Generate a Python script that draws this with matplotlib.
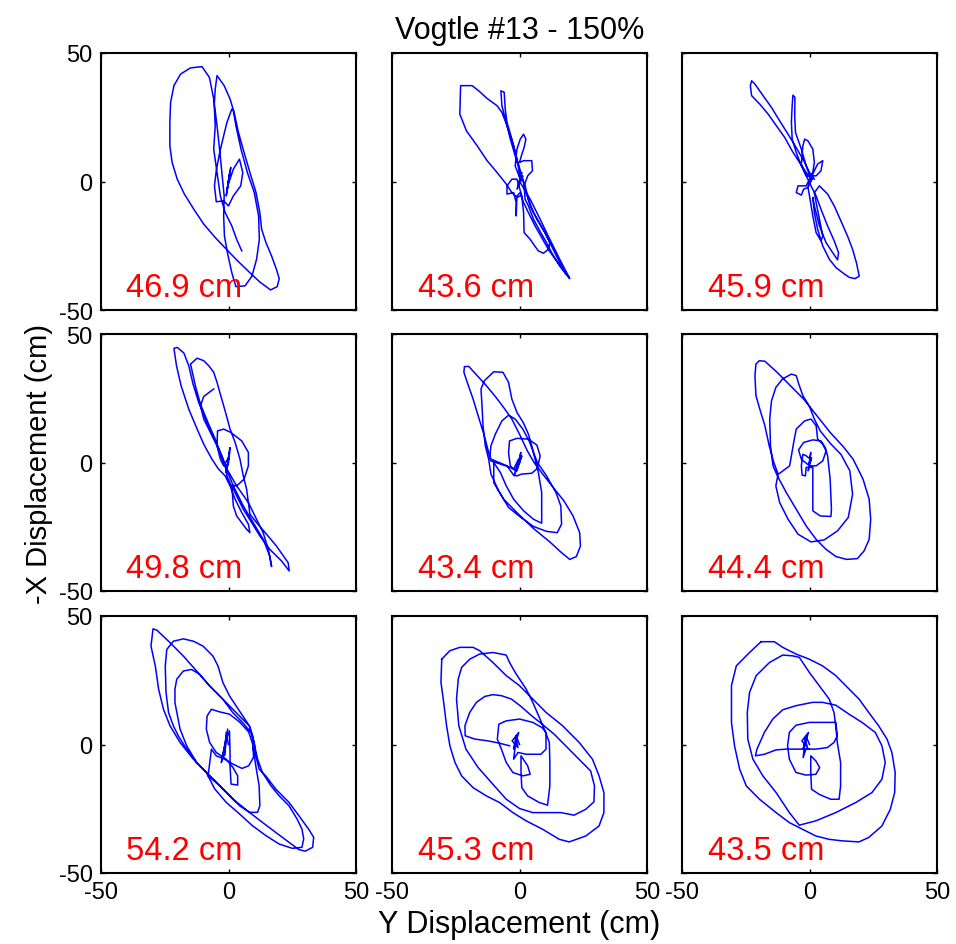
import numpy as np
import matplotlib.pyplot as plt

plt.rcParams['font.family'] = ['Liberation Sans', 'DejaVu Sans']
plt.rcParams['axes.unicode_minus'] = False

nan = np.nan

# orbits: (Y displacement, -X displacement) in cm, one list per panel
orbit_1 = [(0, 0), (0.6, 4.2), (-0.6, -3.6), (0.9, 5.5), (-0.9, -5.6), (0.3, 1.6), (-0.3, -1.7),
           (1.9, 4.8), (4.3, 8.7), (5.6, 3.5), (4.8, -1.7), (1.9, -5.6), (0, -9.5),
           (-1.9, -7.5), (-4.8, -7.9), (-5.5, -1.7), (-4.8, 4.2), (-3.6, 10.6), (-1.9, 17.8),
           (-0.6, 23.0), (1.3, 28.2), (1.9, 27.5), (2.9, 21.7), (4.9, 12.6), (7.4, 3.5),
           (10.1, -4.3), (11.8, -13.4), (12.1, -22.5), (11.0, -30.3), (9.2, -36.8), (6.5, -40.6),
           (2.9, -40.9), (1.3, -35.5), (-0.3, -28.3), (-1.6, -21.2), (-1.9, -13.4), (-1.7, -5.6),
           (-2.6, 3.5), (-3.5, 12.6), (-4.5, 21.7), (-5.8, 32.1), (-7.4, 40.1), (-7.7, 40.8),
           (-10.4, 44.7), (-14.9, 44.2), (-18.8, 41.8), (-21.4, 37.3), (-22.7, 30.8), (-23.0, 23.0),
           (-23.0, 13.9), (-22.1, 7.4), (-20.1, 0.9), (-17.3, -4.9), (-13.6, -10.8), (-9.7, -16.6),
           (-5.2, -21.8), (-0.6, -26.6), (3.2, -30.5), (8.4, -35.5), (12.3, -39.1), (16.5, -42.2),
           (19.1, -40.9), (19.9, -37.8), (18.8, -34.2), (16.9, -29.0), (14.7, -23.8), (13.0, -18.6),
           (12.3, -12.1), (10.8, -4.3), (8.4, 3.5), (6.1, 11.3), (3.9, 19.1), (2.2, 26.9),
           (0.6, 32.1), (-1.7, 37.3), (-4.5, 41.2), (-5.2, 36.0), (-5.6, 29.5), (-5.2, 21.7),
           (-5.8, 12.6), (-4.5, 3.5), (-3.2, -5.6), (-1.3, -12.1), (1.3, -17.3), (3.2, -22.5),
           (5.2, -27.0)]

orbit_2 = [(0, 0), (0.9, 3.5), (-1.0, -3.0), (1.3, 2.2), (-0.4, -1.7), (0.3, 0.9), (-1.7, 6.1),
           (-1.0, 12.6), (0.3, 16.5), (1.6, 18.4), (2.5, 16.5), (1.8, 13.2), (0.9, 10.6), (0, 7.4),
           (1.6, 8.1), (4.8, 8.1), (5.1, 4.2), (3.2, 2.2), (1.8, -1.7), (2.2, -6.9), (3.5, -9.5),
           (5.5, -14.7), (8.7, -20.5), (10.6, -23.8), (12.6, -27.7), (15.8, -32.9), (19.1, -37.0),
           (19.7, -37.8), (17.8, -35.5), (14.5, -30.9), (11.3, -26.4), (8.7, -21.8), (6.1, -17.3),
           (3.5, -12.1), (1.6, -8.2), (0.3, -4.3), (-1.0, -5.6), (-1.3, -13.4), (-1.3, -8.2),
           (-2.3, -4.3), (-4.9, -4.9), (-4.9, -1.7), (-3.0, 0.9), (-1.0, 0.9), (0.9, -5.6),
           (1.6, -12.1), (1.8, -19.9), (4.2, -22.5), (5.5, -24.4), (7.4, -27.0), (9.4, -27.9),
           (11.3, -26.4), (11.9, -23.8), (10.0, -19.9), (8.1, -16.6), (5.5, -12.1), (3.5, -6.9),
           (2.2, -1.7), (0.3, 3.5), (-1.7, 10.0), (-3.6, 16.5), (-5.2, 23.0), (-6.9, 29.5),
           (-7.3, 35.3), (-6.0, 34.7), (-5.6, 28.2), (-4.9, 23.0), (-3.0, 16.5), (-1.0, 8.7),
           (0.9, 2.2), (2.2, -3.0), (4.2, -9.5), (6.8, -14.7), (10.0, -19.9), (13.2, -26.4),
           (16.5, -32.9), (19.5, -37.4), (15.8, -30.3), (11.9, -22.5), (8.1, -14.7), (4.2, -6.9),
           (0.3, -0.4), (-0.4, 6.1), (-2.3, 13.9), (-4.9, 21.7), (-6.9, 26.9), (-8.8, 29.5),
           (-12.7, 32.3), (-16.0, 35.3), (-18.6, 37.3), (-23.1, 37.3), (-23.4, 26.2), (-20.8, 19.7),
           (-16.6, 13.9), (-12.7, 8.1), (-8.8, 3.5), (-5.2, -1.0), (-3.0, -4.3), (-1.0, -6.2),
           (0.3, -5.6)]

orbit_3 = [(0, 0), (0.6, 2.9), (-0.6, -2.3), (1.3, 1.6), (-0.3, -1.0), (0.4, 0.9), (1.9, 4.2),
           (3.2, 6.8), (5.2, 8.1), (4.5, 4.2), (2.6, 2.2), (-1.3, 2.2), (-3.2, 6.8), (-2.6, 13.9),
           (-1.9, 16.5), (-0.6, 15.8), (1.3, 12.6), (1.9, 7.4), (1.3, 3.5), (-1.3, -1.7),
           (-4.5, -1.7), (-5.2, -4.3), (-3.2, -5.3), (-2.3, -3.0), (-0.6, -2.3), (0, -5.6),
           (1.3, -13.4), (2.6, -19.9), (4.5, -23.1), (5.2, -21.2), (3.9, -14.7), (2.6, -8.2),
           (1.9, -4.3), (3.9, -1.7), (7.1, -4.9), (9.7, -9.5), (12.3, -15.3), (14.9, -21.2),
           (16.9, -26.4), (18.4, -31.6), (19.5, -36.8), (17.9, -37.8), (15.6, -37.3), (13.0, -35.5),
           (10.4, -33.5), (7.8, -30.3), (5.2, -25.1), (3.2, -18.6), (1.9, -12.1), (1.3, -6.2),
           (1.9, -9.5), (3.9, -17.3), (6.5, -23.8), (9.1, -27.7), (11.0, -30.5), (11.4, -27.7),
           (9.7, -23.1), (7.1, -17.3), (4.5, -10.8), (2.6, -5.6), (0.6, -1.7), (-1.3, 2.2),
           (-3.2, 6.1), (-5.2, 11.3), (-6.8, 16.5), (-7.1, 23.0), (-6.8, 29.5), (-6.5, 33.6),
           (-5.7, 32.7), (-5.8, 25.6), (-5.5, 19.1), (-3.2, 12.6), (-1.3, 6.1), (0.6, 0.9),
           (-1.3, 3.5), (-3.9, 7.4), (-6.8, 11.9), (-9.7, 17.1), (-13.0, 21.7), (-16.2, 26.2),
           (-19.5, 30.1), (-22.7, 33.4), (-23.2, 37.3), (-22.7, 39.2), (-21.4, 37.9), (-18.2, 33.4),
           (-14.9, 28.8), (-11.7, 23.6), (-8.4, 18.4), (-5.2, 13.2), (-1.9, 7.4), (0, 3.5),
           (1.9, 0.9)]

orbit_4 = [(0, 0), (0.4, 3.9), (-0.6, -2.6), (0.6, 5.8), (-0.9, -3.9), (0, 1.9), (-1.9, -1.3),
           (-3.2, 1.3), (-4.5, 6.5), (-4.3, 12.3), (-1.9, 13.0), (0.9, 11.7), (5.2, 8.4), (7.8, 3.9),
           (7.8, -1.3), (6.1, -6.5), (3.2, -9.1), (0.9, -8.8), (-0.6, -5.2), (-1.3, -1.3),
           (-3.2, 3.9), (-5.2, 9.1), (-7.8, 14.9), (-11.0, 22.7), (-13.0, 29.9), (-14.3, 35.7),
           (-14.9, 38.3), (-12.3, 40.6), (-9.7, 39.6), (-7.8, 37.7), (-5.8, 35.1), (-4.5, 31.2),
           (-3.2, 26.6), (-1.9, 22.1), (-0.6, 17.5), (0.6, 13.0), (2.6, 7.8), (4.5, 1.3),
           (5.8, -5.2), (7.1, -10.4), (7.8, -15.6), (8.4, -20.1), (11.0, -23.4), (14.9, -27.9),
           (18.8, -32.5), (23.4, -39.0), (23.8, -42.2), (20.8, -38.3), (16.2, -33.8), (12.3, -28.6),
           (9.1, -23.4), (5.8, -18.2), (3.2, -13.0), (1.3, -9.1), (1.9, -16.9), (3.2, -20.8),
           (7.1, -26.0), (8.4, -27.3), (7.8, -24.0), (5.2, -19.5), (2.6, -14.3), (0.6, -9.1),
           (-1.3, -5.2), (-3.9, -2.6), (-6.5, 1.3), (-9.7, 7.1), (-12.3, 13.0), (-15.6, 20.8),
           (-18.6, 29.9), (-20.4, 37.7), (-21.4, 44.4), (-20.1, 44.8), (-17.5, 42.6), (-15.6, 37.7),
           (-13.9, 30.5), (-11.7, 23.4), (-8.4, 15.6), (-5.6, 9.1), (-2.6, 2.6), (-0.6, -2.6),
           (3.2, -9.1), (7.8, -15.6), (11.0, -22.1), (13.6, -27.3), (15.6, -33.8), (16.9, -40.5),
           (16.2, -36.4), (13.6, -29.9), (9.7, -23.4), (5.8, -16.9), (1.9, -9.1), (-1.9, 0),
           (-4.5, 6.5), (-7.1, 11.7), (-9.7, 16.9), (-11.0, 22.1), (-9.7, 25.7), (-5.8, 28.6)]

orbit_5 = [(0, 0), (0.5, 3.9), (-1.0, -3.2), (0.9, 2.6), (-2.1, -5.2), (-0.4, 1.3), (-2.3, -2.6),
           (-3.6, -1.3), (-4.3, 3.9), (-3.9, 8.4), (-1.0, 9.4), (3.5, 9.1), (6.8, 6.8), (8.1, 2.6),
           (7.0, -2.3), (4.8, -4.2), (0.9, -4.5), (-1.0, -5.2), (-2.3, -4.9), (-4.9, -1.3),
           (-8.8, 0.3), (-11.7, 1.6), (-11.2, 6.5), (-9.5, 11.0), (-6.9, 16.2), (-4.3, 18.4),
           (-1.7, 16.9), (1.3, 13.0), (3.9, 8.1), (7.0, 0), (10.6, -5.2), (14.3, -11.7),
           (16.2, -16.9), (16.5, -24.0), (14.8, -27.3), (10.6, -26.8), (5.5, -24.9), (0.3, -21.2),
           (-4.3, -17.5), (-8.2, -11.0), (-11.2, -4.5), (-12.1, 1.3), (-13.4, 6.5), (-14.3, 14.3),
           (-14.7, 22.1), (-15.1, 28.6), (-13.8, 31.8), (-10.1, 35.3), (-6.5, 35.1), (-4.3, 31.2),
           (-3.0, 24.7), (-1.0, 19.5), (1.6, 15.3), (3.5, 11.0), (4.8, 6.5), (6.1, 1.3),
           (7.4, -3.9), (8.7, -11.7), (8.7, -23.6), (5.5, -22.1), (1.6, -18.8), (-2.3, -14.3),
           (-5.2, -9.1), (-7.5, -3.9), (-10.1, 0), (-10.1, -7.8), (-6.2, -14.3), (-1.0, -19.5),
           (5.5, -25.7), (11.9, -30.9), (16.5, -35.1), (19.7, -37.7), (22.3, -36.6), (23.9, -32.5),
           (23.6, -27.3), (21.0, -20.8), (17.4, -14.9), (13.2, -9.7), (9.1, -4.5), (5.7, 0),
           (3.1, 4.5), (0.3, 10.4), (-3.0, 16.9), (-6.2, 21.4), (-9.5, 25.7), (-13.0, 29.9),
           (-16.6, 33.8), (-19.9, 37.4), (-21.6, 37.3), (-21.8, 35.1), (-20.5, 31.2), (-18.2, 24.7),
           (-16.0, 17.5), (-13.8, 10.4), (-12.1, 3.9), (-11.2, 0.6), (-7.5, -0.6), (-3.6, -1.9),
           (-1.3, -3.2)]

orbit_6 = [(0, 0), (0.5, 3.9), (-0.5, -3.2), (0.8, 1.9), (-0.3, -1.3), (0.3, 1.3), (-1.3, 2.6),
           (-2.6, 3.2), (-3.2, -1.3), (-2.9, -4.9), (-1.6, -5.2), (-1.3, -1.9), (1.3, -1.9),
           (1.3, -9.1), (1.3, -18.8), (4.2, -20.8), (8.4, -21.0), (8.6, -18.2), (8.1, -6.5),
           (7.1, 2.6), (6.2, 5.8), (4.5, 8.4), (1.3, 8.8), (-2.3, 7.8), (-4.3, 4.9), (-3.2, 1.3),
           (0, -1.3), (2.6, -1.3), (5.2, 0.6), (6.5, 4.5), (5.2, 7.1), (3.2, 9.1), (2.6, 14.3),
           (0.6, 16.9), (-1.9, 16.2), (-5.2, 13.0), (-6.2, 7.8), (-7.1, 2.6), (-7.8, -1.3),
           (-11.7, -4.2), (-12.3, -4.5), (-13.2, -9.1), (-11.7, -15.6), (-8.4, -22.1),
           (-4.5, -27.9), (0.6, -30.9), (5.8, -30.1), (11.0, -26.6), (15.2, -21.4), (16.9, -12.3),
           (15.8, -3.2), (12.3, 3.2), (8.1, 7.5), (4.2, 12.3), (1.9, 16.9), (0, 21.8), (-2.6, 26.0),
           (-4.2, 30.5), (-5.2, 33.8), (-7.1, 34.4), (-10.6, 32.5), (-13.2, 29.2), (-14.9, 24.0),
           (-15.6, 16.9), (-15.3, 6.5), (-14.3, -1.3), (-12.6, -5.2), (-9.1, -11.7), (-5.2, -18.2),
           (-1.3, -24.7), (2.6, -29.9), (6.5, -33.8), (10.4, -36.6), (14.5, -37.7), (18.8, -37.4),
           (21.4, -34.4), (23.4, -29.9), (24.0, -22.1), (23.4, -14.3), (21.0, -6.5), (17.1, 1.3),
           (13.2, 6.2), (8.1, 11.7), (2.9, 18.2), (-2.3, 24.7), (-7.5, 29.9), (-12.7, 35.1),
           (-17.5, 39.4), (-19.7, 39.6), (-21.0, 38.3), (-21.4, 33.8), (-21.0, 26.0), (-19.5, 20.8),
           (-17.5, 14.3), (-15.8, 6.5), (-14.0, 0), (-12.3, -4.5)]

orbit_7 = [(0, 0), (-0.9, 4.7), (-1.6, -4.4), (-0.3, 6.0), (-2.8, -7.0), (-1.2, 0.8), (0.4, 5.3),
           (0.6, -3.1), (0.6, -8.3), (1.0, -15.4), (3.6, -15.8), (3.6, -12.2), (1.7, -8.9),
           (-0.9, -5.7), (-4.8, -3.1), (-7.4, 0.8), (-8.7, 6.0), (-8.4, 11.1), (-6.7, 13.7),
           (-3.5, 12.7), (0.4, 11.8), (4.3, 8.8), (7.9, 4.9), (9.7, -0.5), (9.8, -5.0), (7.9, -8.3),
           (5.3, -9.3), (1.7, -7.6), (-1.6, -5.7), (-4.8, -4.4), (-6.7, -1.8), (-8.0, -12.2),
           (-3.5, -16.0), (0.4, -19.9), (4.3, -23.8), (8.2, -26.4), (11.4, -26.4), (12.3, -23.8),
           (12.0, -16.0), (10.7, -8.3), (9.7, -1.8), (9.4, 3.4), (8.2, 7.2), (4.3, 11.1),
           (0.4, 15.0), (-3.5, 18.9), (-7.4, 22.8), (-11.3, 27.3), (-14.5, 29.2), (-17.7, 28.6),
           (-20.3, 25.4), (-21.0, 21.5), (-21.0, 16.3), (-19.0, 6.0), (-16.4, -0.5), (-12.5, -7.0),
           (-8.7, -10.9), (-5.4, -17.3), (-0.9, -22.5), (4.3, -27.0), (9.4, -31.6), (14.6, -35.4),
           (19.8, -38.7), (25.0, -40.4), (28.8, -40.0), (29.5, -36.7), (28.8, -32.9), (26.9, -29.0),
           (23.7, -23.8), (19.8, -19.9), (16.6, -16.0), (13.3, -10.9), (11.4, -5.7), (9.4, 3.4),
           (8.2, 7.2), (5.6, 11.1), (3.0, 15.0), (0.4, 18.9), (-2.2, 24.1), (-4.1, 30.5),
           (-6.1, 34.4), (-10.0, 38.3), (-13.8, 40.2), (-17.7, 41.1), (-21.6, 40.2), (-24.2, 37.0),
           (-24.8, 30.5), (-24.5, 20.2), (-23.5, 12.4), (-21.6, 7.2), (-19.7, 3.4), (-16.4, -1.8),
           (-12.5, -7.0), (-8.7, -10.9), (-3.5, -16.0), (1.7, -21.2), (8.2, -26.4), (13.3, -30.3),
           (18.5, -34.2), (23.7, -38.0), (27.6, -40.9), (30.1, -41.5), (33.0, -40.0), (33.4, -36.1),
           (31.4, -32.9), (27.6, -27.7), (23.7, -22.5), (18.5, -17.3), (14.6, -12.2), (12.0, -9.6),
           (10.7, -4.4), (10.1, 0.8), (8.8, 4.7), (5.6, 8.5), (1.7, 12.4), (-2.2, 17.6),
           (-7.4, 22.8), (-12.5, 28.6), (-17.7, 34.4), (-22.9, 39.6), (-28.1, 44.5), (-29.6, 45.0),
           (-30.4, 38.3), (-28.7, 30.5), (-27.4, 21.5), (-25.5, 13.7), (-22.9, 7.2), (-19.0, 0.8),
           (-13.8, -5.7), (-8.7, -10.9), (-3.5, -16.0), (1.7, -21.2)]

orbit_8 = [(0, 0), (-1.3, 3.4), (-2.3, -1.8), (-0.3, 4.7), (-2.9, 1.4), (-0.6, -1.2), (-1.3, 2.1),
           (-2.3, -5.7), (-0.6, -3.1), (2.6, -3.8), (8.4, -3.8), (10.4, -1.8), (10.4, 4.7),
           (8.8, 6.6), (5.2, 8.6), (0, 9.9), (-5.2, 9.2), (-8.1, 7.9), (-8.7, 2.1), (-7.1, -1.8),
           (-5.2, -7.0), (-2.6, -10.9), (1.3, -12.2), (4.2, -11.6), (3.2, -8.3), (0.6, -4.4),
           (0.6, -10.9), (0.9, -16.8), (3.2, -20.0), (7.8, -22.6), (11.0, -23.6), (11.9, -16.1),
           (11.9, -7.0), (11.7, 0.8), (9.7, 6.0), (7.8, 10.5), (5.2, 16.4), (2.6, 21.6),
           (-1.3, 27.4), (-3.9, 31.9), (-5.2, 34.8), (-10.4, 35.8), (-15.6, 35.2), (-19.5, 33.2),
           (-22.7, 30.0), (-24.0, 25.5), (-24.7, 17.7), (-23.8, 7.3), (-21.0, -1.8), (-16.2, -9.0),
           (-10.4, -15.5), (-5.2, -21.3), (0, -24.9), (5.2, -26.5), (11.0, -26.5), (16.2, -26.5),
           (21.4, -27.5), (26.0, -25.2), (29.2, -22.3), (29.4, -16.1), (27.9, -10.3), (24.0, -6.4),
           (18.8, -1.2), (13.6, 4.0), (8.4, 8.3), (4.5, 11.4), (0.6, 14.8), (-3.2, 17.7),
           (-7.1, 19.0), (-10.4, 19.4), (-13.6, 18.7), (-16.9, 16.4), (-19.5, 12.5), (-21.4, 7.3),
           (-21.3, 3.4), (-17.5, 2.1), (-12.3, 1.4), (-7.8, 0.5), (-3.9, -0.5), (nan, nan),
           (-30.5, 33.2), (-27.3, 36.5), (-23.4, 37.8), (-18.2, 37.8), (-15.6, 36.5), (-10.4, 31.9),
           (-5.2, 26.8), (0, 22.9), (5.2, 17.7), (10.4, 12.5), (16.9, 7.3), (23.4, 0.8),
           (28.6, -5.7), (31.2, -12.2), (33.1, -18.7), (33.1, -26.5), (31.2, -31.7), (26.0, -35.6),
           (19.5, -37.9), (15.6, -36.9), (9.1, -33.0), (2.6, -29.7), (-2.6, -26.5), (-7.8, -22.6),
           (-13.0, -20.0), (-18.2, -16.8), (-22.7, -12.2), (-25.3, -7.0), (-27.3, -0.5),
           (-28.6, 7.3), (-29.9, 17.7), (-30.8, 24.2), (-30.5, 33.2)]

orbit_9 = [(0, 0), (-1.4, 3.4), (-2.5, -1.8), (-0.4, 4.7), (-3.0, 1.4), (-0.8, -1.2), (-1.7, 2.1),
           (-2.5, -5.1), (-1.4, -1.8), (2.5, -1.8), (7.0, -1.2), (9.6, 0.8), (10.9, 3.4),
           (10.3, 8.6), (5.1, 8.6), (-0.1, 8.6), (-5.3, 7.5), (-7.9, 4.7), (-8.6, -0.5),
           (-7.9, -5.7), (-5.3, -10.9), (-1.4, -11.9), (2.5, -11.6), (4.0, -9.0), (2.5, -6.4),
           (0.5, -4.4), (0.5, -10.9), (0.8, -17.4), (3.8, -19.4), (8.3, -21.3), (11.6, -21.3),
           (12.2, -16.1), (12.2, -7.0), (10.9, 0.8), (10.3, 7.3), (9.6, 12.5), (7.7, 17.7),
           (3.8, 22.9), (-0.1, 28.1), (-4.0, 33.9), (-6.6, 34.5), (-10.5, 34.8), (-15.7, 31.9),
           (-20.9, 26.8), (-23.5, 20.3), (-24.4, 12.5), (-24.2, 2.1), (-22.2, -5.7), (-18.3, -12.2),
           (-13.1, -18.7), (-7.9, -26.5), (-4.0, -31.4), (2.5, -29.7), (10.3, -26.5), (18.1, -22.6),
           (24.5, -18.7), (28.4, -13.5), (29.7, -7.0), (28.4, -0.5), (25.8, 4.7), (20.6, 8.6),
           (15.5, 11.8), (10.3, 15.3), (5.1, 16.4), (1.2, 16.4), (-5.3, 15.1), (-10.5, 13.5),
           (-14.4, 9.9), (-17.7, 4.7), (-20.6, -1.8), (-21.2, -4.4), (-17.7, -3.8), (-13.1, -2.1),
           (-9.2, -1.8), (-4.0, -1.8), (-0.1, -1.8), (nan, nan),
           (-19.0, 40.0), (-13.8, 40.0), (-10.5, 37.8), (-5.3, 35.2), (-0.1, 33.2), (5.1, 30.6),
           (10.3, 26.8), (14.2, 22.9), (19.4, 17.7), (23.2, 12.5), (27.1, 7.3), (30.4, 2.1),
           (32.3, -3.1), (33.6, -10.9), (33.4, -18.7), (31.7, -25.2), (28.4, -31.7), (23.2, -36.2),
           (19.4, -37.9), (12.9, -37.5), (7.7, -36.9), (2.5, -35.6), (-2.7, -33.0), (-7.9, -30.4),
           (-13.1, -26.5), (-19.6, -21.3), (-24.8, -16.1), (-27.4, -9.6), (-29.4, -0.5),
           (-30.6, 8.6), (-30.6, 22.9), (-28.7, 30.6), (-23.5, 35.8), (-19.0, 40.0)]

orbits = [orbit_1, orbit_2, orbit_3, orbit_4, orbit_5, orbit_6, orbit_7, orbit_8, orbit_9]
peak_labels = ['46.9 cm', '43.6 cm', '45.9 cm',
               '49.8 cm', '43.4 cm', '44.4 cm',
               '54.2 cm', '45.3 cm', '43.5 cm']
ticks = [-50, 0, 50]

fig = plt.figure(figsize=(9.56, 9.45), dpi=100)
W, H = 956, 945
lefts = [101, 392, 682]
tops = [54, 335, 617]
aw, ah = 255, 257

axes = []
for r in range(3):
    for c in range(3):
        ax = fig.add_axes([lefts[c] / W, 1 - (tops[r] + ah) / H, aw / W, ah / H])
        pts = np.array(orbits[r * 3 + c], dtype=float)
        ax.plot(pts[:, 0], pts[:, 1], color='#0000ff', lw=1.1)
        ax.text(-40, -44.5, peak_labels[r * 3 + c], color='#ff0000', fontsize=23.5,
                ha='left', va='baseline')
        ax.set_xlim(-50, 50)
        ax.set_ylim(-50, 50)
        ax.set_xticks(ticks)
        ax.set_yticks(ticks)
        ax.tick_params(direction='in', length=3, width=1, top=True, right=True,
                       labelsize=17, pad=6,
                       labelleft=(c == 0), labelbottom=(r == 2))
        for s in ax.spines.values():
            s.set_linewidth(1.5)
        axes.append(ax)

axes[1].set_title('Vogtle #13 - 150%', fontsize=22, pad=11)
axes[7].set_xlabel('Y Displacement (cm)', fontsize=22, labelpad=4)
axes[3].set_ylabel('-X Displacement (cm)', fontsize=21, labelpad=4)

fig.savefig('out.png', dpi=100)
